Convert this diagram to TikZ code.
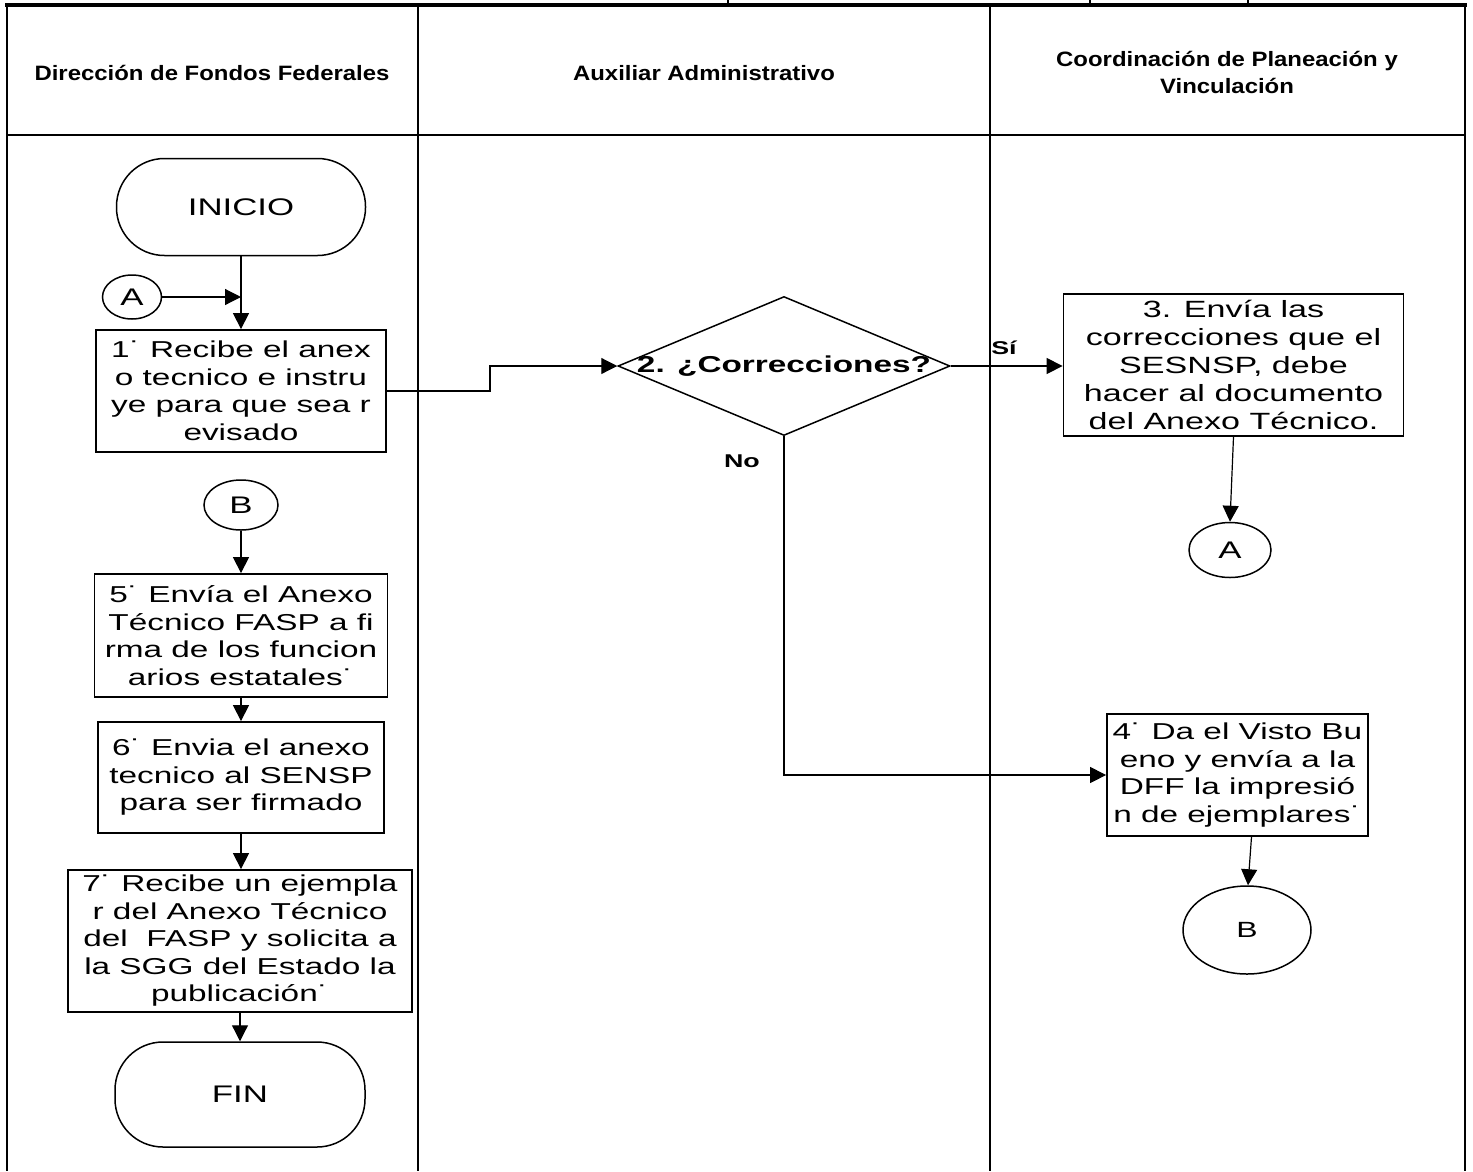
\documentclass[tikz,border=0pt]{standalone}
\usepackage{fontspec}
\setmainfont{Liberation Sans}[FakeStretch=1.45]
\newfontfamily\hdrfont{Liberation Sans}[FakeStretch=1.15]
\usetikzlibrary{shapes.geometric,arrows.meta}

\tikzset{
  lane/.style={line width=2pt},
  hdr/.style={font=\hdrfont\bfseries\fontsize{20.8}{27}\selectfont,align=center,inner sep=0pt},
  proc/.style={draw,line width=1.8pt,align=center,inner sep=0pt,
    font=\fontsize{23}{27.5}\selectfont},
  term/.style={draw,line width=1.5pt,rounded corners=48pt,inner sep=0pt,
    font=\fontsize{24}{28}\selectfont},
  conn/.style={draw,ellipse,line width=1.5pt,inner sep=0pt,
    font=\fontsize{24}{28}\selectfont},
  decision/.style={draw,diamond,line width=1.5pt,inner sep=0pt},
  flow/.style={line width=1.2pt,-{Triangle[length=16pt,width=16pt]}},
  tag/.style={font=\bfseries\fontsize{18.5}{22}\selectfont,inner sep=0pt},
}

\begin{document}
\begin{tikzpicture}[x=1pt,y=-1pt]
\useasboundingbox (0,0) rectangle (1473,1171);

% swimlane frame
\draw[line width=4pt] (5,5) -- (1467,5);
\draw[line width=1.2pt] (728,0) -- (728,5) (1090,0) -- (1090,5) (1248,0) -- (1248,5);
\draw[line width=2.6pt] (7,5) -- (7,1171);
\draw[lane] (1465,5) -- (1465,1171);
\draw[lane] (418,5) -- (418,1171);
\draw[lane] (990,5) -- (990,1171);
\draw[lane] (7,135) -- (1465,135);

% lane headers
\node[hdr] (h1) at (212,73) {Dirección de Fondos Federales};
\node[hdr] (h2) at (704,73) {Auxiliar Administrativo};
\node[hdr] (h3) at (1227,72) {Coordinación de Planeación y\\Vinculación};

% left lane
\node[term,minimum width=249pt,minimum height=97pt] (inicio) at (241,207) {INICIO};
\node[conn,minimum width=59pt,minimum height=44pt] (ca) at (132,297) {A};
\coordinate (join) at (241,297);
\node[proc,minimum width=290pt,minimum height=122pt] (b1) at (241,391)
  {1˙ Recibe el anex\\o tecnico e instru\\ye para que sea r\\evisado};
\node[conn,minimum width=74pt,minimum height=50pt] (cb) at (241,505) {B};
\node[proc,minimum width=293pt,minimum height=123pt] (b5) at (241,635.5)
  {5˙ Envía el Anexo\\Técnico FASP a fi\\rma de los funcion\\arios estatales˙};
\node[proc,minimum width=286pt,minimum height=111pt] (b6) at (241,777.5)
  {6˙ Envia el anexo\\tecnico al SENSP\\para ser firmado};
\node[proc,minimum width=344pt,minimum height=142pt] (b7) at (240,941)
  {7˙ Recibe un ejempla\\r del Anexo Técnico\\del \ FASP y solicita a\\la SGG del Estado la\\publicación˙};
\node[term,minimum width=250pt,minimum height=105pt] (fin) at (240,1094.5) {FIN};

% middle lane
\node[decision,minimum width=332pt,minimum height=139pt,
  label={[font=\bfseries\fontsize{23}{27}\selectfont]center:2. ¿Correcciones?}] (dec) at (784,366) {};
\coordinate (bend) at (490,0);
\node[tag] (si) at (1004,348) {Sí};
\node[tag] (no) at (742,461) {No};

% right lane
\node[proc,minimum width=340pt,minimum height=142pt,font=\fontsize{23.5}{28}\selectfont] (b3) at (1233.5,365)
  {3. Envía las\\correcciones que el\\SESNSP, debe\\hacer al documento\\del Anexo Técnico.};
\node[conn,minimum width=82pt,minimum height=55pt] (ca2) at (1230,550) {A};
\node[proc,minimum width=261pt,minimum height=122pt] (b4) at (1237.5,775)
  {4˙ Da el Visto Bu\\eno y envía a la\\DFF la impresió\\n de ejemplares˙};
\node[conn,minimum width=128pt,minimum height=88pt,font=\fontsize{22}{26}\selectfont] (cb2) at (1247,930) {B};

% connectors
\draw[line width=1.2pt] (inicio.south) -- (join);
\draw[flow] (join) -- (b1.north);
\draw[flow] (ca.east) -- (join);
\draw[flow] (b1.east) -- (b1.east -| bend) |- (dec.west);
\draw[flow] (dec.east) -- (dec.east -| b3.west);
\draw[flow] (b3.south) -- (ca2.north);
\draw[flow] (dec.south) |- (b4.west);
\draw[flow] ([xshift=14pt]b4.south) -- ([xshift=1pt]cb2.north);
\draw[flow] (cb.south) -- (b5.north);
\draw[flow] (b5.south) -- (b6.north);
\draw[flow] (b6.south) -- (b7.north -| b6.south);
\draw[flow] (b7.south -| fin.north) -- (fin.north);
\end{tikzpicture}
\end{document}
